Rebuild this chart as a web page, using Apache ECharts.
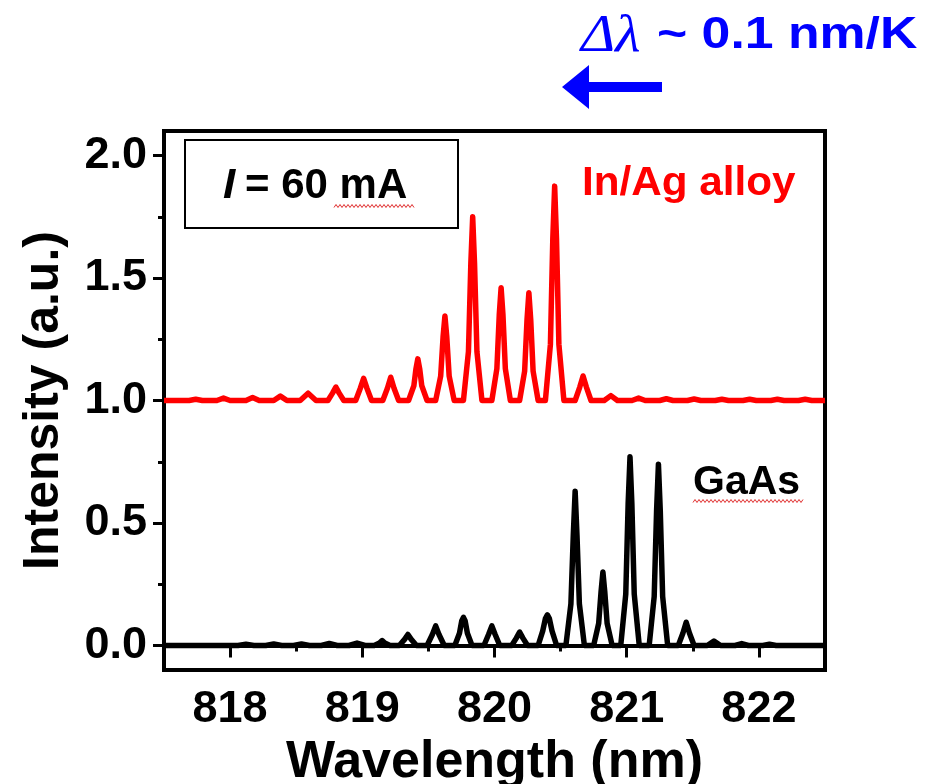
<!DOCTYPE html>
<html>
<head>
<meta charset="utf-8">
<script src="https://cdn.jsdelivr.net/npm/echarts@6/dist/echarts.min.js"></script>
<style>
  html, body { margin: 0; padding: 0; background: #fff; }
  #chart { width: 946px; height: 784px; }
</style>
</head>
<body>
<div id="chart"></div>
<script>
// GaAs spectrum (black)
const gaasWl = [
  817.50,
  818.06, 818.12, 818.18,
  818.27, 818.33, 818.39,
  818.48, 818.54, 818.60,
  818.69, 818.75, 818.81,
  818.90, 818.96, 819.02,
  819.09, 819.13, 819.15, 819.17, 819.21,
  819.28, 819.32, 819.345, 819.37, 819.41,
  819.49, 819.53, 819.555, 819.58, 819.62,
  819.70, 819.735, 819.752, 819.765, 819.778, 819.795, 819.83,
  819.92, 819.955, 819.98, 820.005, 820.04,
  820.13, 820.165, 820.19, 820.215, 820.25,
  820.33, 820.365, 820.385, 820.40, 820.415, 820.435, 820.47,
  820.54, 820.578, 820.596, 820.61, 820.624, 820.642, 820.68,
  820.75, 820.788, 820.806, 820.82, 820.834, 820.852, 820.89,
  820.955, 820.993, 821.011, 821.025, 821.039, 821.057, 821.095,
  821.17, 821.208, 821.226, 821.24, 821.254, 821.272, 821.31,
  821.39, 821.425, 821.45, 821.475, 821.51,
  821.61, 821.66, 821.71,
  821.82, 821.87, 821.92,
  822.03, 822.08, 822.13,
  822.50
];
const gaasInt = [
  0,
  0, 0.005, 0,
  0, 0.006, 0,
  0, 0.006, 0,
  0, 0.008, 0,
  0, 0.01, 0,
  0, 0.01, 0.02, 0.01, 0,
  0, 0.025, 0.045, 0.025, 0,
  0, 0.045, 0.08, 0.045, 0,
  0, 0.05, 0.10, 0.115, 0.10, 0.05, 0,
  0, 0.045, 0.08, 0.045, 0,
  0, 0.03, 0.055, 0.03, 0,
  0, 0.06, 0.11, 0.125, 0.11, 0.06, 0,
  0, 0.17, 0.45, 0.63, 0.45, 0.17, 0,
  0, 0.09, 0.22, 0.30, 0.22, 0.09, 0,
  0, 0.21, 0.58, 0.77, 0.58, 0.21, 0,
  0, 0.20, 0.55, 0.74, 0.55, 0.20, 0,
  0, 0.05, 0.095, 0.05, 0,
  0, 0.018, 0,
  0, 0.008, 0,
  0, 0.005, 0,
  0
];

// In/Ag alloy spectrum (red), offset to 1.0
const alloyWl = [
  817.50,
  817.69, 817.74, 817.79,
  817.90, 817.95, 818.00,
  818.12, 818.17, 818.22,
  818.33, 818.38, 818.43,
  818.53, 818.59, 818.65,
  818.74, 818.775, 818.80, 818.825, 818.86,
  818.95, 818.985, 819.01, 819.035, 819.07,
  819.155, 819.19, 819.215, 819.24, 819.275,
  819.35, 819.39, 819.406, 819.42, 819.434, 819.45, 819.49,
  819.555, 819.593, 819.611, 819.625, 819.639, 819.657, 819.695,
  819.765, 819.803, 819.821, 819.835, 819.849, 819.867, 819.905,
  819.98, 820.018, 820.036, 820.05, 820.064, 820.082, 820.12,
  820.19, 820.228, 820.246, 820.26, 820.274, 820.292, 820.33,
  820.385, 820.423, 820.441, 820.455, 820.469, 820.487, 820.525,
  820.61, 820.645, 820.67, 820.695, 820.73,
  820.83, 820.88, 820.93,
  821.04, 821.09, 821.14,
  821.25, 821.30, 821.35,
  821.46, 821.51, 821.56,
  821.67, 821.72, 821.77,
  821.88, 821.93, 821.98,
  822.09, 822.14, 822.19,
  822.30, 822.35, 822.40,
  822.50
];
const alloyInt = [
  1.0,
  1.0, 1.005, 1.0,
  1.0, 1.01, 1.0,
  1.0, 1.012, 1.0,
  1.0, 1.018, 1.0,
  1.0, 1.03, 1.0,
  1.0, 1.03, 1.055, 1.03, 1.0,
  1.0, 1.05, 1.09, 1.05, 1.0,
  1.0, 1.05, 1.095, 1.05, 1.0,
  1.0, 1.06, 1.13, 1.17, 1.13, 1.06, 1.0,
  1.0, 1.10, 1.26, 1.345, 1.26, 1.10, 1.0,
  1.0, 1.20, 1.56, 1.75, 1.56, 1.20, 1.0,
  1.0, 1.13, 1.35, 1.46, 1.35, 1.13, 1.0,
  1.0, 1.12, 1.33, 1.44, 1.33, 1.12, 1.0,
  1.0, 1.23, 1.66, 1.875, 1.66, 1.23, 1.0,
  1.0, 1.055, 1.10, 1.055, 1.0,
  1.0, 1.02, 1.0,
  1.0, 1.01, 1.0,
  1.0, 1.007, 1.0,
  1.0, 1.006, 1.0,
  1.0, 1.005, 1.0,
  1.0, 1.005, 1.0,
  1.0, 1.005, 1.0,
  1.0, 1.005, 1.0,
  1.0
];

const xMajor = [818, 819, 820, 821, 822];
const xMinor = [817.5, 818.5, 819.5, 820.5, 821.5, 822.5];
const yMajor = [0, 0.5, 1.0, 1.5, 2.0];
const yMinor = [0.25, 0.75, 1.25, 1.75];

const FONT = "'Liberation Sans', Arial, sans-serif";

const chart = echarts.init(document.getElementById("chart"));

// 红色波浪下划线（拼写检查样式）
function squiggle(x0, x1, y) {
  const pts = [];
  for (let x = x0, i = 0; x <= x1; x += 2, i++) {
    pts.push([x, y + (i % 2 ? -1.5 : 1.5)]);
  }
  return pts;
}

const zip = (xs, ys) => xs.map((x, i) => [x, ys[i]]);

chart.setOption({
  animation: false,
  grid: {
    left: 164, right: 121, top: 131, bottom: 114,
    outerBoundsMode: "none", containLabel: false,
    show: true, borderColor: "#000", borderWidth: 4, backgroundColor: "transparent"
  },
  xAxis: [
    {
      type: "value", min: 817.5, max: 822.5,
      name: "Wavelength (nm)", nameLocation: "middle", nameGap: 54,
      nameTextStyle: { fontFamily: FONT, fontWeight: "bold", fontSize: 52, color: "#000" },
      axisLine: { show: true, lineStyle: { color: "#000", width: 4 } },
      axisTick: { show: true, customValues: xMajor, length: 12, lineStyle: { color: "#000", width: 3 } },
      axisLabel: {
        customValues: xMajor, margin: 17, color: "#000",
        fontFamily: FONT, fontWeight: "bold", fontSize: 45
      },
      splitLine: { show: false }
    },
    {
      type: "value", min: 817.5, max: 822.5, position: "bottom",
      axisLine: { show: false },
      axisTick: { show: true, customValues: xMinor, length: 6, lineStyle: { color: "#000", width: 3 } },
      axisLabel: { show: false },
      splitLine: { show: false }
    }
  ],
  yAxis: [
    {
      type: "value", min: -0.1, max: 2.1,
      name: "Intensity (a.u.)", nameLocation: "middle", nameGap: 95, nameRotate: 90,
      nameTextStyle: { fontFamily: FONT, fontWeight: "bold", fontSize: 50, color: "#000" },
      axisLine: { show: true, lineStyle: { color: "#000", width: 4 } },
      axisTick: { show: true, customValues: yMajor, length: 11, lineStyle: { color: "#000", width: 3 } },
      axisLabel: {
        customValues: yMajor, margin: 17, color: "#000",
        fontFamily: FONT, fontWeight: "bold", fontSize: 45,
        formatter: v => v.toFixed(1)
      },
      splitLine: { show: false }
    },
    {
      type: "value", min: -0.1, max: 2.1, position: "left",
      axisLine: { show: false },
      axisTick: { show: true, customValues: yMinor, length: 6, lineStyle: { color: "#000", width: 3 } },
      axisLabel: { show: false },
      splitLine: { show: false }
    }
  ],
  series: [
    {
      name: "GaAs", type: "line", xAxisIndex: 0, yAxisIndex: 0,
      data: zip(gaasWl, gaasInt), showSymbol: false, clip: true,
      lineStyle: { color: "#000", width: 5.5, join: "round" }, itemStyle: { color: "#000" }
    },
    {
      name: "In/Ag alloy", type: "line", xAxisIndex: 0, yAxisIndex: 0,
      data: zip(alloyWl, alloyInt), showSymbol: false, clip: true,
      lineStyle: { color: "#ff0000", width: 5.5, join: "round" }, itemStyle: { color: "#ff0000" }
    }
  ],
  graphic: [
    // I = 60 mA 方框
    {
      type: "rect", z: 100,
      shape: { x: 185, y: 140, width: 273, height: 88 },
      style: { fill: "#fff", stroke: "#000", lineWidth: 2 }
    },
    {
      type: "text", z: 101, x: 223, y: 186, scaleX: 1.05,
      style: { text: "I", fontFamily: FONT, fontStyle: "italic", fontWeight: "bold", fontSize: 42, fill: "#000", textVerticalAlign: "middle" }
    },
    {
      type: "text", z: 101, x: 245, y: 186, scaleX: 1.0,
      style: { text: "= 60 mA", fontFamily: FONT, fontWeight: "bold", fontSize: 42, fill: "#000", textVerticalAlign: "middle" }
    },
    {
      type: "polyline", z: 101,
      shape: { points: squiggle(334, 414, 206) },
      style: { stroke: "#e03030", lineWidth: 1, fill: null }
    },
    // 曲线标注
    {
      type: "text", z: 101, x: 582, y: 184, scaleX: 1.03,
      style: { text: "In/Ag alloy", fontFamily: FONT, fontWeight: "bold", fontSize: 41, fill: "#ff0000", textVerticalAlign: "middle" }
    },
    {
      type: "text", z: 101, x: 693, y: 483,
      style: { text: "GaAs", fontFamily: FONT, fontWeight: "bold", fontSize: 41, fill: "#000", textVerticalAlign: "middle" }
    },
    {
      type: "polyline", z: 101,
      shape: { points: squiggle(693, 803, 501) },
      style: { stroke: "#e03030", lineWidth: 1, fill: null }
    },
    // 顶部的 Δλ ~ 0.1 nm/K 与箭头
    {
      type: "text", z: 101, x: 581, y: 37, scaleX: 1.12,
      style: { text: "Δλ", fontFamily: "'Liberation Serif', 'Times New Roman', serif", fontStyle: "italic", fontSize: 52, fill: "#0000ff", textVerticalAlign: "middle" }
    },
    {
      type: "text", z: 101, x: 657, y: 36, scaleX: 1.15,
      style: { text: "~ 0.1 nm/K", fontFamily: FONT, fontWeight: "bold", fontSize: 45, fill: "#0000ff", textVerticalAlign: "middle" }
    },
    {
      type: "polygon", z: 101,
      shape: { points: [[562, 87], [589, 65], [589, 82], [662, 82], [662, 92], [589, 92], [589, 109]] },
      style: { fill: "#0000ff" }
    }
  ]
});
</script>
</body>
</html>
